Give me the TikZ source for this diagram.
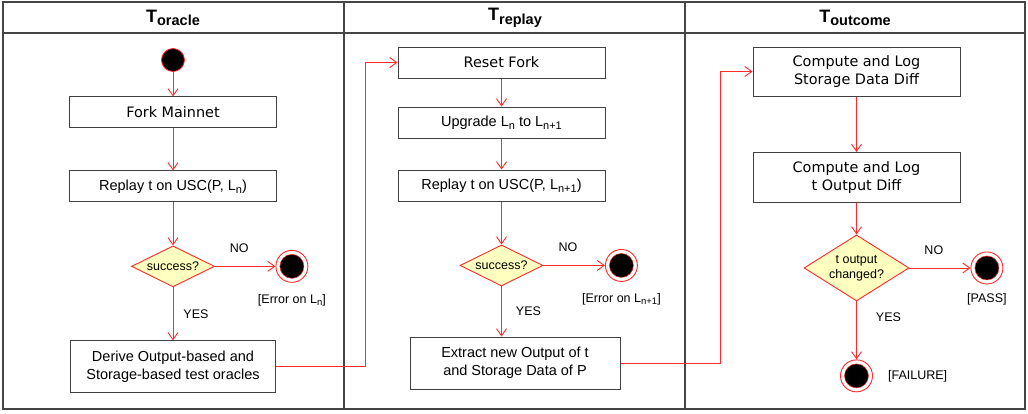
\documentclass[tikz,border=0pt]{standalone}
\usepackage{fontspec}
\setmainfont{Liberation Sans}
\newfontfamily\verdfont{DejaVu Sans}
\usepackage{tikz}
\usetikzlibrary{positioning,shapes.geometric,arrows.meta}
\definecolor{flowred}{HTML}{FF2A2A}
\definecolor{decfill}{HTML}{FFFFC0}
\definecolor{boxline}{HTML}{404040}
\definecolor{laneline}{HTML}{454545}
\newcommand{\lanetitle}[1]{{\fontsize{18}{20}\selectfont T}\raisebox{-3.5pt}{\fontsize{14.5}{16}\selectfont #1}}
\newcommand{\lsub}[1]{\raisebox{-3pt}{\fontsize{11}{12}\selectfont #1}}
\newcommand{\ssub}[1]{\raisebox{-2.5pt}{\fontsize{9.5}{11}\selectfont #1}}

\begin{document}
\begin{tikzpicture}[x=1pt,y=-1pt,
	flow/.style={draw=flowred, line width=0.9pt, -{Straight Barb[length=7pt,width=10pt]}},
	actbox/.style={draw=boxline, fill=white, line width=1pt, minimum width=207pt, minimum height=31pt,
		inner sep=2pt, align=center, font=\fontsize{14.5}{18.3}\selectfont},
	verdbox/.style={actbox, font=\verdfont\fontsize{14.4}{17.7}\selectfont},
	decision/.style={diamond, draw=flowred, fill=decfill, line width=0.9pt, inner sep=0pt, aspect=2,
		minimum width=83pt, minimum height=41pt, align=center, font=\fontsize{12.5}{15}\selectfont},
	startnode/.style={circle, draw=flowred, fill=black, line width=0.8pt, minimum size=23pt, inner sep=0pt},
	endnode/.style={circle, draw=flowred, fill=white, line width=0.9pt, minimum size=32pt, inner sep=0pt,
		path picture={\filldraw[fill=black, draw=flowred, line width=0.5pt] (path picture bounding box.center) circle (12pt);}},
	lbl/.style={inner sep=3pt, font=\fontsize{12.5}{15}\selectfont},
	lanetitle/.style={font=\bfseries}]
	\useasboundingbox (0,0) rectangle (1028,413);
	% swimlanes
	\draw[laneline, line width=1.2pt] (3,2) rectangle (1025,409);
	\draw[laneline, line width=1.2pt] (3,33) -- (1025,33);
	\draw[laneline, line width=1.2pt] (344,2) -- (344,409);
	\draw[laneline, line width=1.2pt] (685,2) -- (685,409);
	\node(h1) [lanetitle] at (173,18) {\lanetitle{oracle}};
	\node(h2) [lanetitle] at (515,18) {\lanetitle{replay}};
	\node(h3) [lanetitle] at (855,18) {\lanetitle{outcome}};

	% oracle lane
	\node(start) [startnode] at (173,60) {};
	\node(fork) [verdbox, below=24.5pt of start] {Fork Mainnet};
	\node(rep1) [actbox, below=42pt of fork] {Replay t on USC(P, L\lsub{n})};
	\node(dec1) [decision, below=43pt of rep1] {success?};
	\node(err1) [endnode, right=60.5pt of dec1] {};
	\node(errlbl1) [lbl, below=8pt of err1] {[Error on L\ssub{n}]};
	\node(derive) [actbox, minimum width=205pt, minimum height=52pt, below=53pt of dec1]
		{Derive Output-based and\\Storage-based test oracles};
	\draw[flow] (start) -- (fork);
	\draw[flow] (fork) -- (rep1);
	\draw[flow] (rep1) -- (dec1);
	\draw[flow] (dec1) -- node[lbl, pos=0.4, above=10pt] {NO} (err1);
	\draw[flow] (dec1) -- node[lbl, right=7pt] {YES} (derive);

	% replay lane
	\node(reset) [verdbox] at (501.5,62.5) {Reset Fork};
	\node(upg) [actbox, below=28pt of reset] {Upgrade L\lsub{n} to L\lsub{n+1}};
	\node(rep2) [actbox, below=31pt of upg] {Replay t on USC(P, L\lsub{n+1})};
	\node(dec2) [decision, below=43pt of rep2] {success?};
	\node(err2) [endnode, right=61.5pt of dec2] {};
	\node(errlbl2) [lbl, below=8pt of err2] {[Error on L\ssub{n+1}]};
	\node(extract) [actbox, minimum width=210pt, minimum height=52pt] at (515,363)
		{Extract new Output of t\\and Storage Data of P};
	\draw[flow] (derive.east) -- ++(89,0) |- (reset.west);
	\draw[flow] (reset) -- (upg);
	\draw[flow] (upg) -- (rep2);
	\draw[flow] (rep2) -- (dec2);
	\draw[flow] (dec2) -- node[lbl, pos=0.4, above=10pt] {NO} (err2);
	\draw[flow] (dec2.south) -- node[lbl, right=11pt] {YES} (dec2.south |- extract.north);

	% outcome lane
	\node(cmp1) [verdbox, minimum height=49pt] at (856.5,71.5) {Compute and Log\\Storage Data Diff};
	\node(cmp2) [verdbox, minimum height=49.5pt, below=55.5pt of cmp1] {Compute and Log\\t Output Diff};
	\node(dec3) [decision, aspect=1.6, minimum width=105pt, minimum height=66pt, below=32pt of cmp2]
		{t output\\changed?};
	\node(pass) [endnode, right=61pt of dec3] {};
	\node(passlbl) [lbl, below=6pt of pass] {[PASS]};
	\node(fail) [endnode, below=58pt of dec3] {};
	\node(faillbl) [lbl, right=12pt of fail] {[FAILURE]};
	\draw[flow] (extract.east) -- ++(100,0) |- (cmp1.west);
	\draw[flow] (cmp1) -- (cmp2);
	\draw[flow] (cmp2) -- (dec3);
	\draw[flow] (dec3) -- node[lbl, pos=0.4, above=10pt] {NO} (pass);
	\draw[flow] (dec3) -- node[lbl, pos=0.27, right=16pt] {YES} (fail);
\end{tikzpicture}
\end{document}
